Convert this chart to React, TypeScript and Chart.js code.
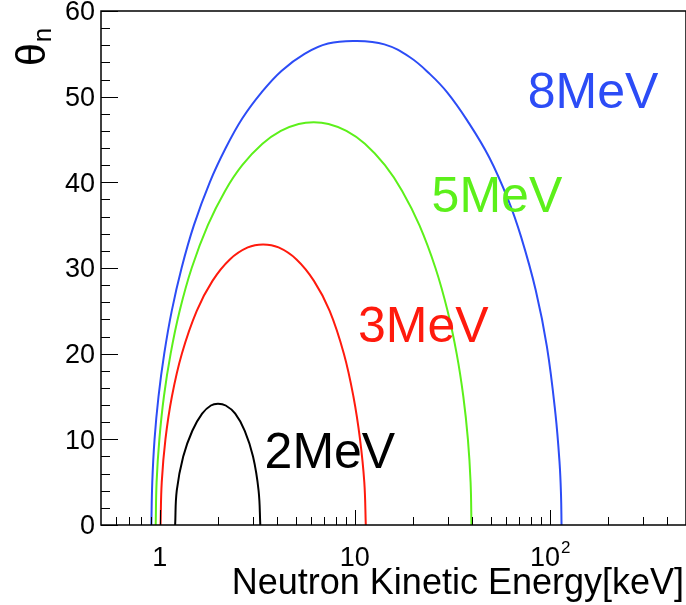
import React, { useEffect, useRef } from "react";
import { Chart, registerables } from "chart.js";

Chart.register(...registerables);

// ---- data (smoothed by hand) ----
const energy2MeV = [1.2, 1.223, 1.32, 1.47, 1.65, 1.83, 1.99, 2.18, 2.44, 2.73, 3.01, 3.215, 3.28];
const theta2MeV = [0, 4, 8, 11, 13, 13.95, 14.15, 13.95, 13, 11, 8, 4, 0];

const energy3MeV = [1.01, 1.0245, 1.07, 1.155, 1.299, 1.549, 1.865, 2.289, 2.83, 3.39, 4.07, 5.03, 6.18, 7.44, 8.8, 9.85, 10.65, 11.2, 11.4];
const theta3MeV = [0, 5, 10, 15, 20, 25, 28.5, 31, 32.4, 32.75, 32.4, 31, 28.5, 25, 20, 15, 10, 5, 0];

const energy5MeV = [0.954, 0.964, 0.996, 1.051, 1.138, 1.266, 1.459, 1.766, 2.164, 2.65, 3.364, 4.18, 5.16, 6.16, 7.34, 9.07, 11.28, 14.29, 17.51, 21.46, 25.95, 29.93, 33.33, 36.06, 38.07, 39.29, 39.7];
const theta5MeV = [0, 5, 10, 15, 20, 25, 30, 35, 39, 42, 44.5, 46, 46.8, 47.0, 46.8, 46, 44.5, 42, 39, 35, 30, 25, 20, 15, 10, 5, 0];

const energy8MeV = [0.906, 0.916, 0.941, 0.986, 1.055, 1.153, 1.295, 1.498, 1.806, 2.18, 2.66, 3.33, 4.21, 5.53, 7.3, 10.1, 14.2, 19.2, 24.4, 29.8, 37.8, 49.0, 61.4, 71.4, 84.8, 96.8, 107, 112.4, 114.3, 115];
const theta8MeV = [0, 5, 10, 15, 20, 25, 30, 35, 40, 44, 47.5, 50.5, 53, 55, 56.2, 56.5, 56.1, 54.6, 52.6, 50.5, 47.2, 42.9, 37.9, 33.6, 27.4, 20.8, 13.0, 7.2, 3.5, 0];

const seriesNames = ["2MeV", "3MeV", "5MeV", "8MeV"];
const seriesColors = ["#000000", "#ff1a0d", "#5cf01a", "#2c4cf6"];

// curve-label anchors in data coordinates (energy, theta)
const labelEnergy = [3.45, 10.4, 24.8, 77.1];
const labelTheta = [6.65, 21.4, 36.5, 48.7];

// axis ticks
const xMajorTicks = [1, 10, 100];
const xMajorLabels = ["1", "10", "10^2"];
const xMinorTicks = [0.6, 0.7, 0.8, 0.9, 2, 3, 4, 5, 6, 7, 8, 9, 20, 30, 40, 50, 60, 70, 80, 90, 200, 300, 400, 500];
const yMajorTicks = [0, 10, 20, 30, 40, 50, 60];
const yMinorTicks = [2, 4, 6, 8, 12, 14, 16, 18, 22, 24, 26, 28, 32, 34, 36, 38, 42, 44, 46, 48, 52, 54, 56, 58];

const xTitle = "Neutron Kinetic Energy[keV]";
const yTitleMain = "θ";
const yTitleSub = "n";

const FONT = "'Liberation Sans', Arial, Helvetica, sans-serif";

const rootAxesPlugin = {
  id: "rootAxes",
  afterDraw(chart: any) {
    const ctx = chart.ctx as CanvasRenderingContext2D;
    const { left, top, right, bottom } = chart.chartArea;
    const xs = chart.scales.x;
    const ys = chart.scales.y;
    ctx.save();
    ctx.strokeStyle = "#000";
    ctx.fillStyle = "#000";

    // frame
    ctx.lineWidth = 1.5;
    ctx.strokeRect(left, top, right - left, bottom - top);

    // ticks (inward)
    ctx.lineWidth = 1;
    ctx.beginPath();
    yMajorTicks.forEach((v) => {
      const y = Math.round(ys.getPixelForValue(v)) + 0.5;
      ctx.moveTo(left, y);
      ctx.lineTo(left + 17, y);
    });
    yMinorTicks.forEach((v) => {
      const y = Math.round(ys.getPixelForValue(v)) + 0.5;
      ctx.moveTo(left, y);
      ctx.lineTo(left + 9, y);
    });
    xMajorTicks.forEach((v) => {
      const x = Math.round(xs.getPixelForValue(v)) + 0.5;
      ctx.moveTo(x, bottom);
      ctx.lineTo(x, bottom - 15);
    });
    xMinorTicks.forEach((v) => {
      const x = Math.round(xs.getPixelForValue(v)) + 0.5;
      ctx.moveTo(x, bottom);
      ctx.lineTo(x, bottom - 8);
    });
    ctx.stroke();

    // y tick labels
    ctx.font = `27px ${FONT}`;
    ctx.textAlign = "right";
    ctx.textBaseline = "middle";
    yMajorTicks.forEach((v) => {
      ctx.fillText(String(v), left - 6, ys.getPixelForValue(v) + 2);
    });

    // x tick labels
    ctx.textBaseline = "alphabetic";
    xMajorTicks.forEach((v, i) => {
      const x = xs.getPixelForValue(v);
      const lab = xMajorLabels[i];
      if (lab.includes("^")) {
        const [base, exp] = lab.split("^");
        ctx.font = `27px ${FONT}`;
        const wb = ctx.measureText(base).width;
        ctx.font = `17px ${FONT}`;
        const we = ctx.measureText(exp).width;
        const x0 = x - (wb + we) / 2;
        ctx.textAlign = "left";
        ctx.font = `27px ${FONT}`;
        ctx.fillText(base, x0, 566);
        ctx.font = `17px ${FONT}`;
        ctx.fillText(exp, x0 + wb + 1, 553);
      } else {
        ctx.textAlign = "center";
        ctx.font = `27px ${FONT}`;
        ctx.fillText(lab, x, 566);
      }
    });

    // x axis title
    ctx.font = `36px ${FONT}`;
    ctx.textAlign = "right";
    ctx.fillText(xTitle, right - 2, 594);

    // y axis title (rotated)
    ctx.save();
    ctx.translate(45, 66);
    ctx.rotate(-Math.PI / 2);
    ctx.textAlign = "left";
    ctx.font = `41px ${FONT}`;
    ctx.fillText(yTitleMain, 0, 0);
    const wt = ctx.measureText(yTitleMain).width;
    ctx.font = `26px ${FONT}`;
    ctx.fillText(yTitleSub, wt + 1, 6);
    ctx.restore();

    // curve labels
    ctx.font = `50px ${FONT}`;
    ctx.textAlign = "left";
    seriesNames.forEach((name, i) => {
      ctx.fillStyle = seriesColors[i];
      ctx.fillText(name, xs.getPixelForValue(labelEnergy[i]), ys.getPixelForValue(labelTheta[i]));
    });

    ctx.restore();
  },
};

export default function App() {
  const canvasRef = useRef<HTMLCanvasElement | null>(null);

  useEffect(() => {
    if (!canvasRef.current) return;
    const energies = [energy2MeV, energy3MeV, energy5MeV, energy8MeV];
    const thetas = [theta2MeV, theta3MeV, theta5MeV, theta8MeV];
    const chart = new Chart(canvasRef.current, {
      type: "scatter",
      data: {
        datasets: seriesNames.map((name, i) => ({
          label: name,
          data: energies[i].map((e, j) => ({ x: e, y: thetas[i][j] })),
          showLine: true,
          borderColor: seriesColors[i],
          backgroundColor: seriesColors[i],
          borderWidth: 2,
          pointRadius: 0,
          tension: 0.4,
          fill: false,
        })),
      },
      options: {
        responsive: false,
        animation: false,
        devicePixelRatio: 1,
        layout: { padding: { left: 101, right: 0, top: 11, bottom: 80 } },
        plugins: {
          legend: { display: false },
          tooltip: { enabled: false },
        },
        scales: {
          x: { type: "logarithmic", min: 0.5, max: 500, display: false },
          y: { type: "linear", min: 0, max: 60, display: false },
        },
      },
      plugins: [rootAxesPlugin],
    });
    return () => chart.destroy();
  }, []);

  return (
    <div style={{ position: "fixed", left: 0, top: 0, width: 686, height: 605, background: "#fff" }}>
      <canvas ref={canvasRef} width={686} height={605} style={{ display: "block" }} />
    </div>
  );
}
